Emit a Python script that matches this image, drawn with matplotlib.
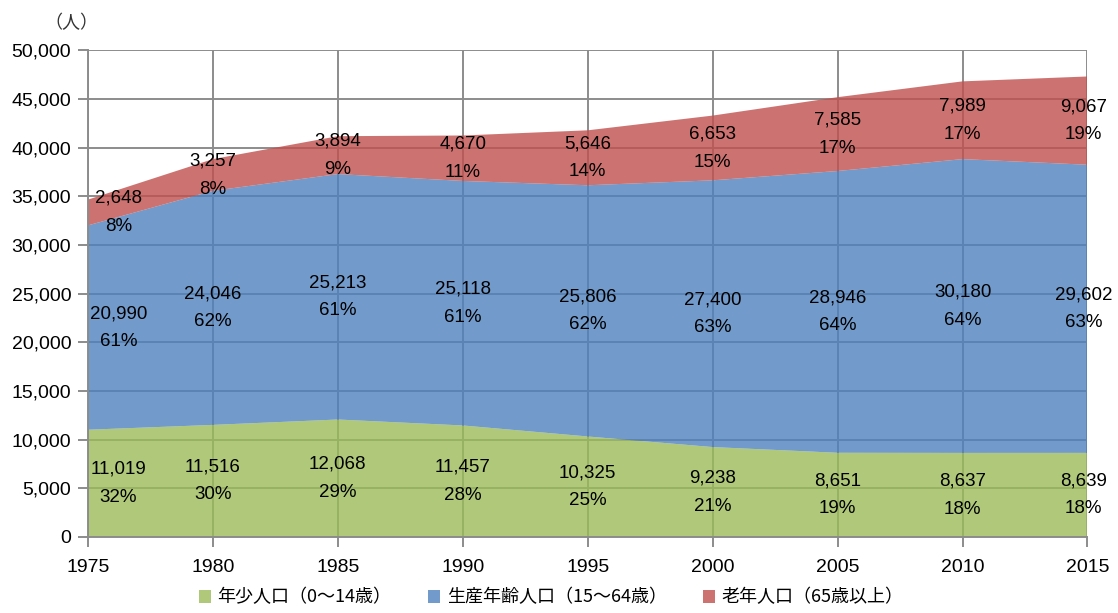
import matplotlib.pyplot as plt
from matplotlib.patches import Patch
from matplotlib.ticker import FuncFormatter

plt.rcParams['font.family'] = ['Liberation Sans', 'Noto Sans CJK JP', 'DejaVu Sans']

years = [1975, 1980, 1985, 1990, 1995, 2000, 2005, 2010, 2015]
young = [11019, 11516, 12068, 11457, 10325, 9238, 8651, 8637, 8639]
working = [20990, 24046, 25213, 25118, 25806, 27400, 28946, 30180, 29602]
elderly = [2648, 3257, 3894, 4670, 5646, 6653, 7585, 7989, 9067]

series_names = ['年少人口（0～14歳）', '生産年齢人口（15～64歳）', '老年人口（65歳以上）']
colors = ['#9BBB59', '#4F81BD', '#C0504D']

fig = plt.figure(figsize=(11.18, 6.13), dpi=100)
ax = fig.add_axes([0.0787, 0.124, 0.894, 0.794])

ax.stackplot(years, young, working, elderly, colors=colors, alpha=0.8, zorder=2)

ax.set_xlim(1975, 2015)
ax.set_ylim(0, 50000)
ax.set_xticks(years)
ax.set_yticks(range(0, 50001, 5000))
ax.yaxis.set_major_formatter(FuncFormatter(lambda v, p: f'{int(v):,}'))
ax.grid(True, color='#8c8c8c', linewidth=1.4, zorder=1)
ax.set_axisbelow(True)
for side in ['top', 'right']:
    ax.spines[side].set_visible(False)
for side in ['left', 'bottom']:
    ax.spines[side].set_color('#8c8c8c')
    ax.spines[side].set_linewidth(1.4)
ax.tick_params(axis='both', colors='#8c8c8c', length=7, width=1.4,
               labelcolor='black', labelsize=14)
ax.tick_params(axis='x', pad=9)
ax.tick_params(axis='y', pad=5)

# value and share labels in the middle of each band
totals = [a + b + c for a, b, c in zip(young, working, elderly)]
for i, yr in enumerate(years):
    base = 0
    for vals in (young, working, elderly):
        v = vals[i]
        mid = base + v / 2
        base += v
        dx = 22 if i == 0 else (-3 if i == len(years) - 1 else 0)
        pct = round(v / totals[i] * 100)
        ax.annotate(f'{v:,}', (yr, mid), xytext=(dx, 4), textcoords='offset points',
                    ha='center', va='bottom', fontsize=13.5, zorder=5,
                    annotation_clip=False)
        ax.annotate(f'{pct}%', (yr, mid), xytext=(dx, -4), textcoords='offset points',
                    ha='center', va='top', fontsize=13.5, zorder=5,
                    annotation_clip=False)

fig.text(0.04, 0.962, '（人）', fontsize=13, family=['Noto Sans CJK JP', 'DejaVu Sans'],
         ha='left', va='center', color='#333333')

handles = [Patch(facecolor=c, alpha=0.8, edgecolor='none') for c in colors]
fig.legend(handles, series_names, loc='lower center', bbox_to_anchor=(0.493, -0.016),
           ncol=3, frameon=False, handlelength=0.7, handleheight=0.7,
           handletextpad=0.35, columnspacing=2.0,
           prop={'family': ['Noto Sans CJK JP', 'DejaVu Sans'], 'size': 13})

fig.savefig('out.png', dpi=100)
